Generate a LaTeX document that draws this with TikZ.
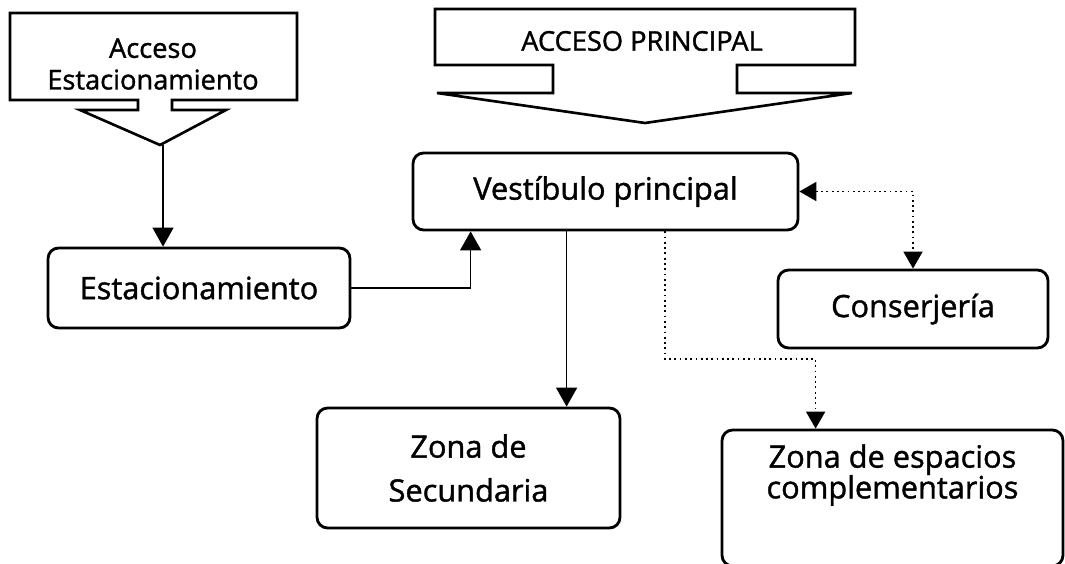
\documentclass[tikz,border=0pt]{standalone}
\usepackage{fontspec}
\setmainfont{Open Sans}
\newfontfamily\handfont{Open Sans}[FakeBold=1.3]
\usetikzlibrary{arrows.meta,positioning,calc}
\tikzset{
  >={Triangle[length=3.8mm,width=4.2mm]},
  zone/.style={draw,rounded corners=6pt,line width=1.6pt,align=center,
    font=\handfont\fontsize{17.5}{25}\selectfont,inner sep=0pt},
  zone text/.style={align=center,font=\handfont\fontsize{17.5}{17.5}\selectfont,inner sep=0pt},
  callout/.style={draw,line width=1.5pt,fill=white},
  tag/.style={align=center,font=\handfont\fontsize{15.5}{18}\selectfont,inner sep=0pt},
  link/.style={->,line width=0.8pt},
  dotlink/.style={->,dotted,line width=1pt,>={Triangle[length=3.4mm,width=3.8mm]}},
}

\begin{document}
\begin{tikzpicture}[x=0.02cm,y=-0.02cm]
  \useasboundingbox (0,0) rectangle (1065,564);
  \clip (0,0) rectangle (1065,564);
  % access arrows
  \draw[callout] (10,13) -- (297,13) -- (297,100) -- (172,100) -- (172,110) -- (226,110)
    -- (160,145) -- (80,110) -- (138,110) -- (138,100) -- (10,100) -- cycle;
  \node[tag] (accest) at (153,64) {Acceso\\Estacionamiento};
  \coordinate (tipest) at (163,145);
  \draw[callout] (435,9) -- (855,9) -- (855,65) -- (737,65) -- (737,93) -- (852,93)
    -- (645,123) -- (437,93) -- (553,93) -- (553,65) -- (435,65) -- cycle;
  \node[tag] (accpri) at (642,41) {ACCESO PRINCIPAL};
  % zones
  \node[zone,minimum width=7.7cm,minimum height=1.54cm] (vest) at (605.5,191.5) {Vestíbulo principal};
  \node[zone,minimum width=6.04cm,minimum height=1.6cm] (est) at (199,288) {Estacionamiento};
  \node[zone,minimum width=5.4cm,minimum height=1.56cm] (cons) at (913,309) {Conserjería};
  \node[zone,minimum width=6.06cm,minimum height=2.4cm] (zsec) at (468.5,468) {Zona de\\Secundaria};
  \node[zone,minimum width=6.82cm,minimum height=2.72cm] (zesp) at (892.5,498) {};
  \node[zone text] (zesptxt) at (892.5,475) {Zona de espacios\\complementarios};
  % connectors
  \draw[link] (tipest) -- (tipest |- est.north);
  \draw[link] (est.east) -| ([xshift=1.18cm]vest.south west);
  \draw[link] ([xshift=3.1cm]vest.south west) -- ([xshift=3.1cm]vest.south west |- zsec.north);
  \draw[dotlink,<->] (vest.east) -| (cons.north);
  \coordinate (bend) at (665,359);
  \draw[dotlink] (vest.south -| bend) -- (bend) -| ([xshift=1.9cm]zesp.north west);
\end{tikzpicture}
\end{document}
